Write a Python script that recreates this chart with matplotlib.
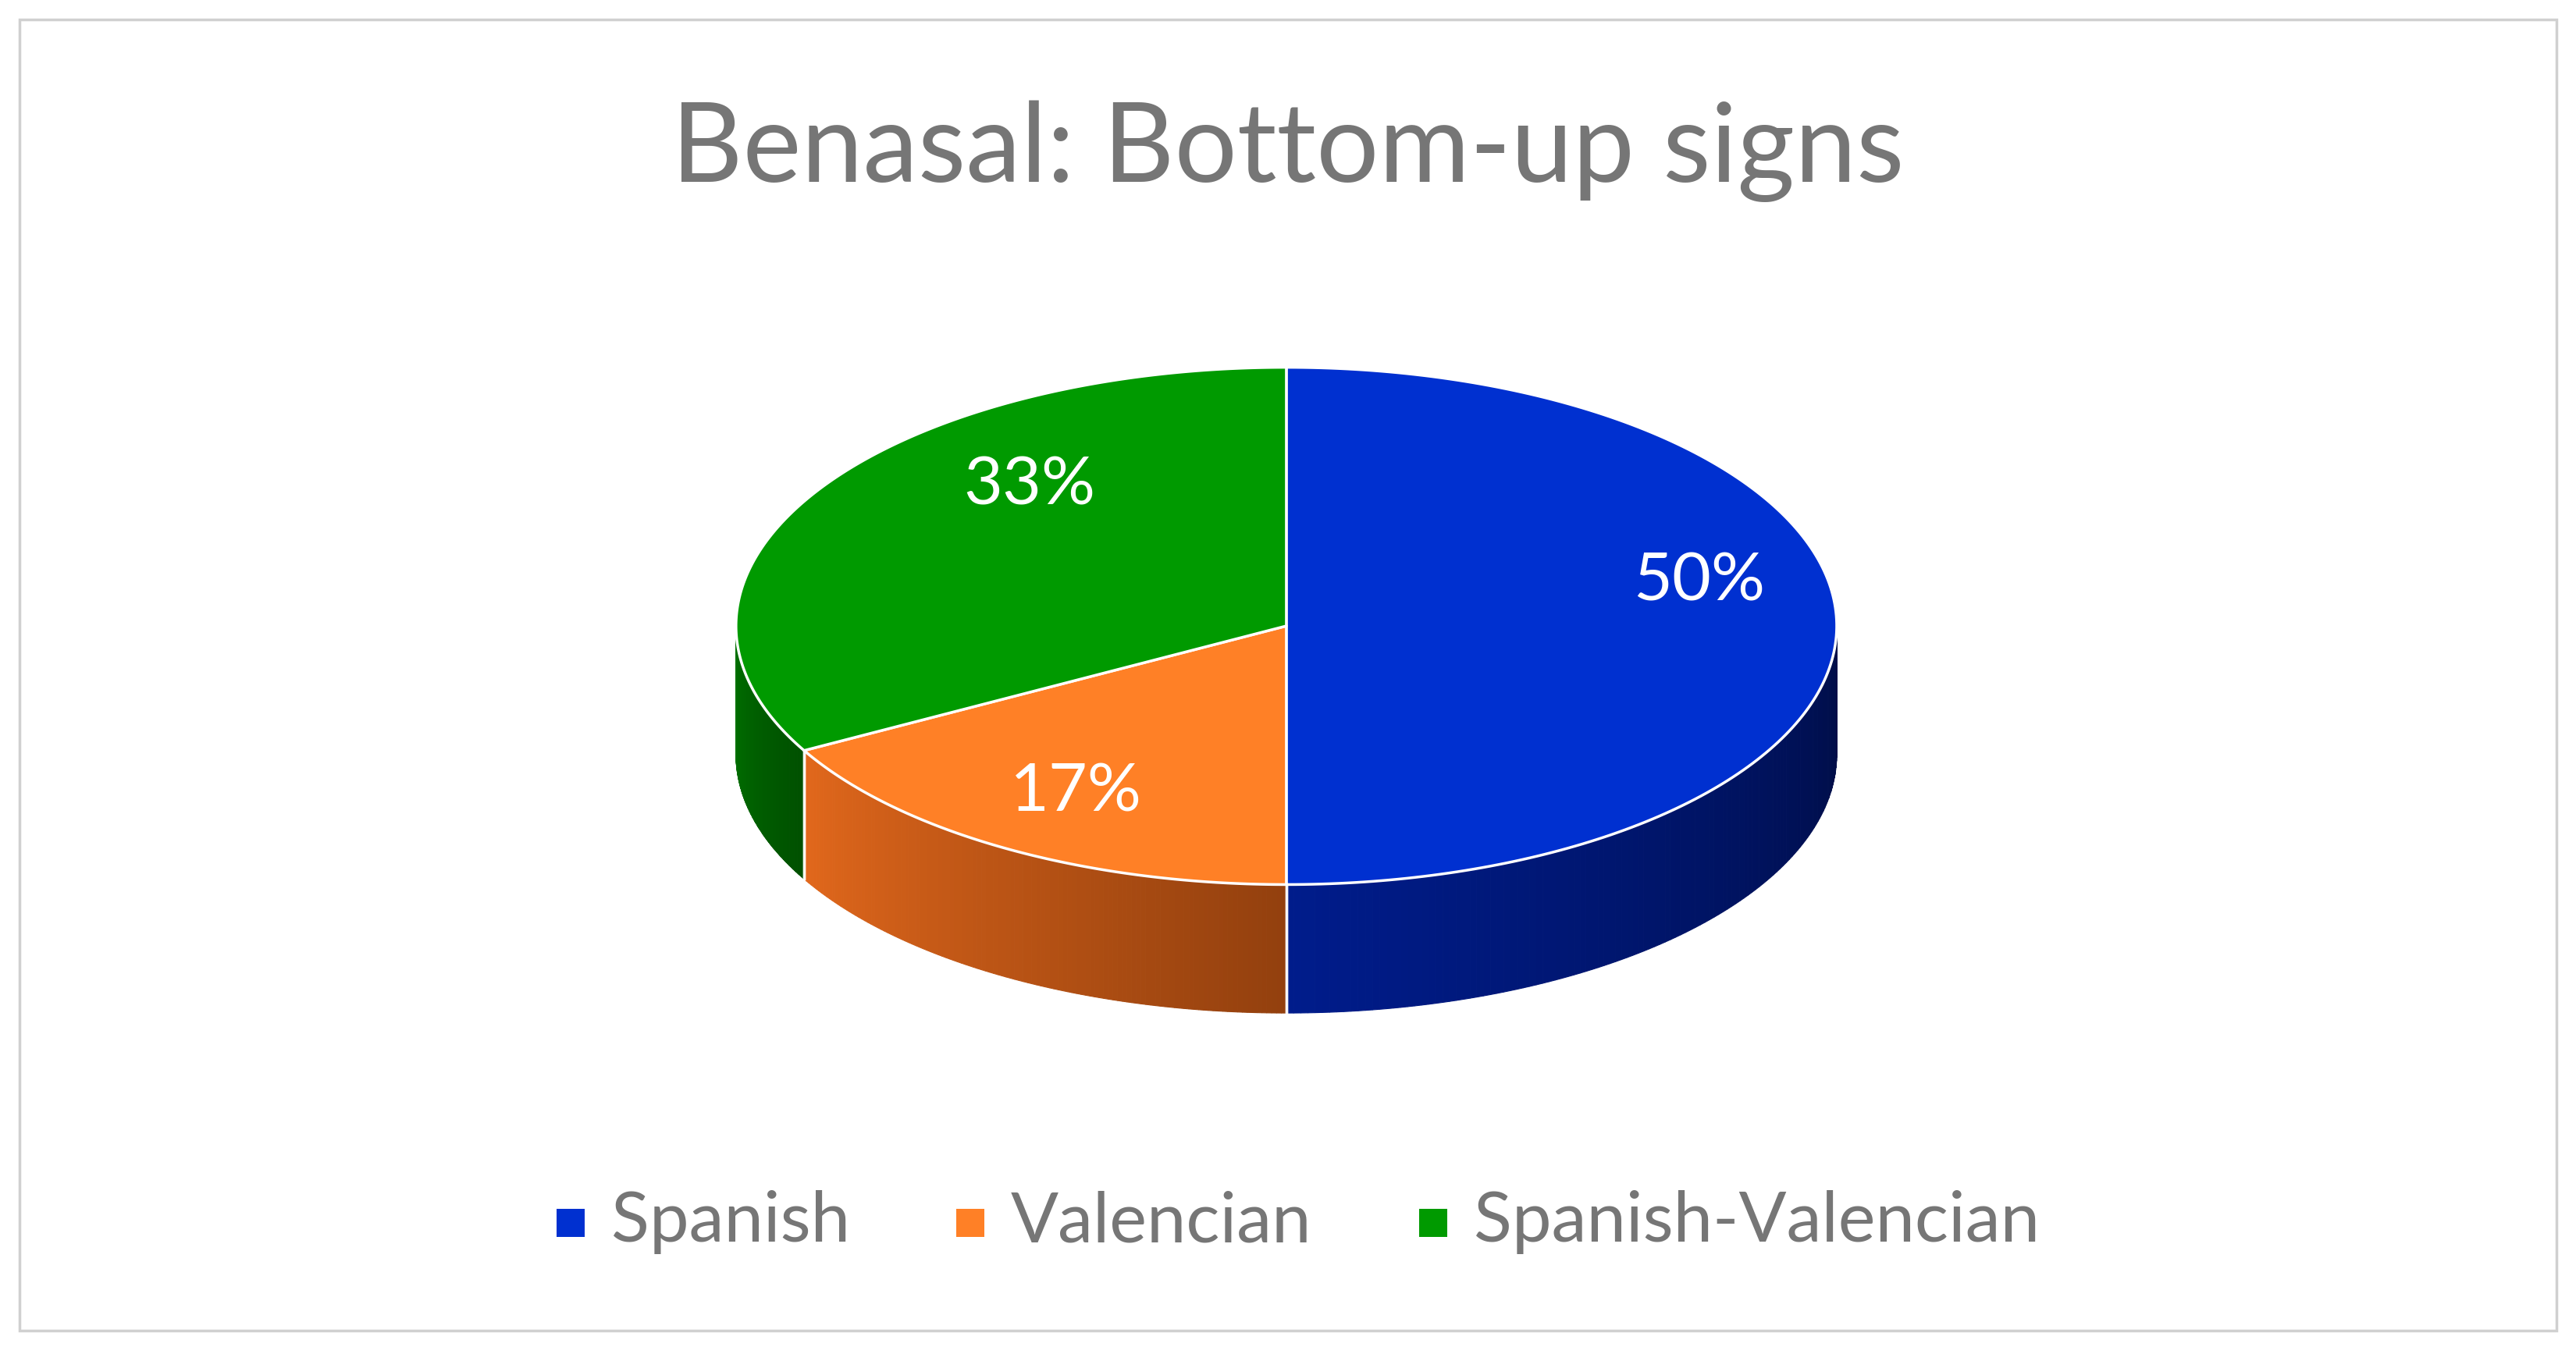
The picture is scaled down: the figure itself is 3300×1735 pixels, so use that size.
import numpy as np
import matplotlib
matplotlib.use("Agg")
import matplotlib.pyplot as plt
from matplotlib.patches import Polygon, Rectangle
import matplotlib.colors as mc

categories = ["Spanish", "Valencian", "Spanish-Valencian"]
values = [50, 17, 33]
labels = ["50%", "17%", "33%"]
top_colors = ["#0030D0", "#FF8026", "#009A00"]
side_colors = [("#000D45", "#001C8C"), ("#93400E", "#E2681C"), ("#005000", "#007000")]

W, H = 1568, 822
fig = plt.figure(figsize=(33, 17.35), dpi=100)
ax = fig.add_axes([0, 0, 1, 1])
ax.set_xlim(0, W); ax.set_ylim(H, 0); ax.axis("off")
ax.add_patch(Rectangle((12, 12), W - 24, H - 26, fill=False, ec="#D0D0D0", lw=2.5))

cx, cy, rx, ry, depth = 783, 380, 335, 157, 78
def pt(t, d=0.0, r=1.0):
    return cx + r * rx * np.sin(t), cy - r * ry * np.cos(t) + d

fr = np.array(values) / sum(values)
starts = np.concatenate([[0], np.cumsum(fr)[:-1]]) * 2 * np.pi
ends = np.cumsum(fr) * 2 * np.pi

for i in range(3):
    a0, a1 = max(starts[i], np.pi / 2), min(ends[i], 3 * np.pi / 2)
    if a1 <= a0:
        continue
    n = 120
    ts = np.linspace(a0, a1, n + 1)
    c0, c1 = np.array(mc.to_rgb(side_colors[i][0])), np.array(mc.to_rgb(side_colors[i][1]))
    for k in range(n):
        f = k / n
        col = c0 * (1 - f) + c1 * f
        tt = np.linspace(ts[k], ts[k + 1], 3)
        up = [pt(t) for t in tt]
        dn = [pt(t, depth) for t in tt[::-1]]
        ax.add_patch(Polygon(up + dn, closed=True, fc=col, ec=col, lw=0.8))
    for a in (a0, a1):
        if abs(a - np.pi / 2) > 1e-6 and abs(a - 3 * np.pi / 2) > 1e-6:
            x, y = pt(a)
            ax.plot([x, x], [y, y + depth], color="white", lw=2.5, alpha=0.8)

for i in range(3):
    ts = np.linspace(starts[i], ends[i], 200)
    poly = [(cx, cy)] + [pt(t) for t in ts]
    ax.add_patch(Polygon(poly, closed=True, fc=top_colors[i], ec="white", lw=2.5, joinstyle="round"))

offs = [(0, -27), (0, 0), (60, -25)]
for i in range(3):
    m = (starts[i] + ends[i]) / 2
    x, y = pt(m, r=0.75)
    ax.text(x + offs[i][0], y + offs[i][1], labels[i], color="white", fontsize=62,
            ha="center", va="center", family="Lato")

ax.text(W / 2, 92, "Benasal: Bottom-up signs", color="#767676", fontsize=102,
        ha="center", va="center", family="Lato")

lx = [347, 590, 872]
for i in range(3):
    ax.add_patch(Rectangle((lx[i] - 8, 734), 17, 17, fc=top_colors[i], ec="none"))
    ax.text(lx[i] + 25, 742, categories[i], color="#767676", fontsize=65,
            ha="left", va="center", family="Lato")

fig.savefig("out.png", dpi=100, facecolor="white")
